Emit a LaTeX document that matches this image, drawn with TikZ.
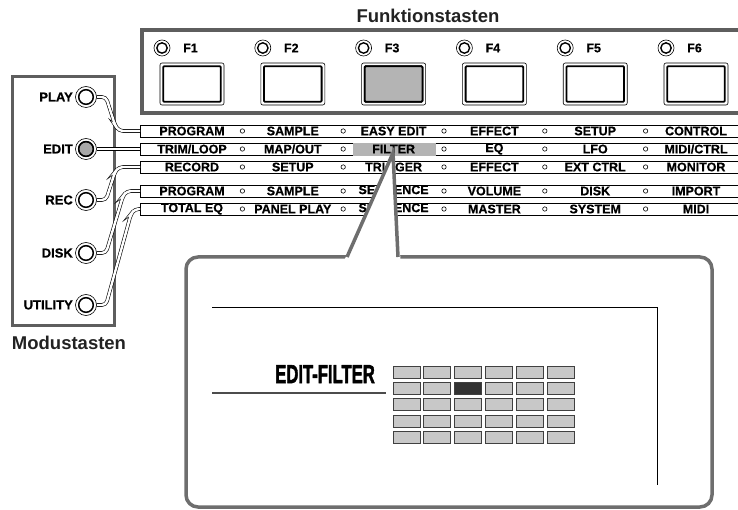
\documentclass[tikz,border=0pt]{standalone}
\usepackage{fontspec}
\setmainfont{Liberation Sans}
\newfontfamily\heavyfont[BoldFeatures={FakeBold=0.6}]{Liberation Sans}
\newfontfamily\lcdfont[BoldFeatures={FakeBold=2.2}]{Liberation Sans}
\definecolor{pgray}{HTML}{5E5E5E}
\definecolor{cgray}{HTML}{6E6E6E}
\definecolor{hlgray}{HTML}{B4B4B4}
\definecolor{cellgray}{HTML}{C8C8C8}
\definecolor{celldark}{HTML}{333333}
\definecolor{ledgray}{HTML}{A8A8A8}
\definecolor{titlec}{HTML}{222222}
\begin{document}
\begin{tikzpicture}[x=1pt,y=-1pt,
  title/.style={font=\bfseries\fontsize{18.5}{18.5}\selectfont, text=titlec, inner sep=0pt},
  panel/.style={draw=pgray, line width=3.5pt},
  mpanel/.style={draw=pgray, line width=3pt},
  fled/.style={circle, draw=black, line width=0.6pt, minimum size=16pt, inner sep=0pt},
  ledin/.style={draw=black, line width=1.4pt},
  flab/.style={font=\heavyfont\bfseries\fontsize{12.5}{12.5}\selectfont, inner sep=0pt},
  fbtn/.style={rectangle, draw=black, line width=0.6pt, rounded corners=2pt, minimum width=64pt, minimum height=42pt, inner sep=0pt},
  btnin/.style={draw=black, line width=1.8pt, rounded corners=1pt, fill=white},
  mled/.style={circle, draw=black, line width=0.6pt, minimum size=21pt, inner sep=0pt, fill=white},
  mledin/.style={draw=black, line width=1.5pt},
  mlab/.style={font=\heavyfont\bfseries\fontsize{13}{13}\selectfont, inner sep=0pt},
  rowbox/.style={rectangle, draw=black, line width=0.8pt, minimum width=620pt, minimum height=12pt, inner sep=0pt},
  rowtxt/.style={font=\heavyfont\bfseries\fontsize{12.5}{12.5}\selectfont, inner sep=0pt},
  sep/.style={draw=black, line width=0.6pt},
  wire/.style={draw=black, line width=0.6pt, double=white, double distance=2.4pt, rounded corners=4pt},
  callout/.style={draw=cgray, line width=3.5pt},
  lcdtitle/.style={font=\lcdfont\bfseries\fontsize{26}{26}\selectfont, inner sep=0pt},
  cell/.style={draw=black!75, line width=0.8pt, fill=cellgray}
]
\useasboundingbox (0,0) rectangle (738,510);
\clip (0,0) rectangle (738,510);

% ---------- function keys ----------
\node[title] (ftitle) at (428,16) {Funktionstasten};
\draw[panel, fill=white] (142,30) rectangle (770,113);
\foreach \i/\n in {0/1,1/2,2/3,3/4,4/5,5/6}{
  \pgfmathsetmacro\bx{160+100.8*\i}
  \node[fled] (led\n) at (\bx+2,48) {};
  \draw[ledin] (led\n.center) circle[radius=5.2];
  \node[flab, anchor=west] (fl\n) at (\bx+23,48) {F\n};
  \node[fbtn] (fb\n) at (\bx+32,84) {};
  \draw[btnin] (\bx+3.2,66.2) rectangle (\bx+60.8,101.8);
}
\draw[btnin, fill=hlgray] (160+201.6+3.2,66.2) rectangle (160+201.6+60.8,101.8);

% ---------- mode keys ----------
\draw[mpanel] (12,77) rectangle (114,325);
\node[title] (mtitle) at (69,343) {Modustasten};

% ---------- menu rows ----------
\foreach \r/\y in {1/131,2/149,3/167,4/191,5/209}{
  \node[rowbox, anchor=west] (r\r) at (140,\y) {};
  \foreach \i in {0,...,4} \draw[sep] (242.4+100.8*\i,\y) circle[radius=2.2];
}
\fill[hlgray] (353,143.5) rectangle (436,156.5);
\foreach \t [count=\i from 0] in {PROGRAM,SAMPLE,EASY EDIT,EFFECT,SETUP,CONTROL}
  \node[rowtxt] (ta\i) at (192+100.8*\i,131) {\t};
\foreach \t [count=\i from 0] in {TRIM/LOOP,MAP/OUT,FILTER,EQ,LFO,MIDI/CTRL}
  \node[rowtxt] (tb\i) at (192+100.8*\i,149) {\t};
\foreach \t [count=\i from 0] in {RECORD,SETUP,TRIGGER,EFFECT,EXT CTRL,MONITOR}
  \node[rowtxt] (tc\i) at (192+100.8*\i,167) {\t};
\foreach \t [count=\i from 0] in {PROGRAM,SAMPLE,SEQUENCE,VOLUME,DISK,IMPORT}
  \node[rowtxt] (td\i) at (192+100.8*\i,191) {\t};
\foreach \t [count=\i from 0] in {TOTAL EQ,PANEL PLAY,SEQUENCE,MASTER,SYSTEM,MIDI}
  \node[rowtxt] (te\i) at (192+100.8*\i,209) {\t};

% ---------- mode LEDs and wires ----------
\foreach \n/\t/\y in {play/PLAY/97, edit/EDIT/149, rec/REC/200, disk/DISK/253, util/UTILITY/305}{
  \node[mlab, anchor=east] (\n-l) at (73,\y) {\t};
}
\draw[wire] (96.5,97) -- (106,97) -- (115,125) -- (119,131) -- (r1.west);
\draw[wire] (96.5,149) -- (r2.west);
\draw[wire] (96.5,200) -- (106,200) -- (115,172) -- (119,167) -- (r3.west);
\draw[wire] (96.5,253) -- (106,253) -- (123,196) -- (127,191) -- (r4.west);
\draw[wire] (96.5,305) -- (106,305) -- (131,214) -- (135,209) -- (r5.west);
\foreach \n/\y in {play/97, edit/149, rec/200, disk/253, util/305}{
  \node[mled] (\n) at (86,\y) {};
  \draw[mledin] (\n.center) circle[radius=7.3];
}
\draw[mledin, fill=ledgray] (edit.center) circle[radius=7.3];

% ---------- callout ----------
\draw[callout, fill=white, rounded corners=12pt] (186,257) rectangle (712,507);
\fill[white] (344.5,259.8) -- (393,153) -- (400.5,259.8) -- cycle;
\draw[callout, line join=miter] (347,257) -- (393,153) -- (398,257);

% ---------- LCD ----------
\draw[black, line width=0.8pt] (212,307) -- (657,307) -- (657,485);
\draw[black!70, line width=1.4pt] (212,393) -- (386,393);
\node[lcdtitle, anchor=base east] (lcdt) at (375,383) {\scalebox{0.64}[1]{EDIT-FILTER}};
\foreach \j in {0,...,5}
  \foreach \k in {0,...,4}
    \draw[cell] (393+30.8*\j,366+16.3*\k) rectangle ++(27,12);
\draw[cell, fill=celldark] (393+61.6,382.3) rectangle ++(27,12);
\end{tikzpicture}
\end{document}
